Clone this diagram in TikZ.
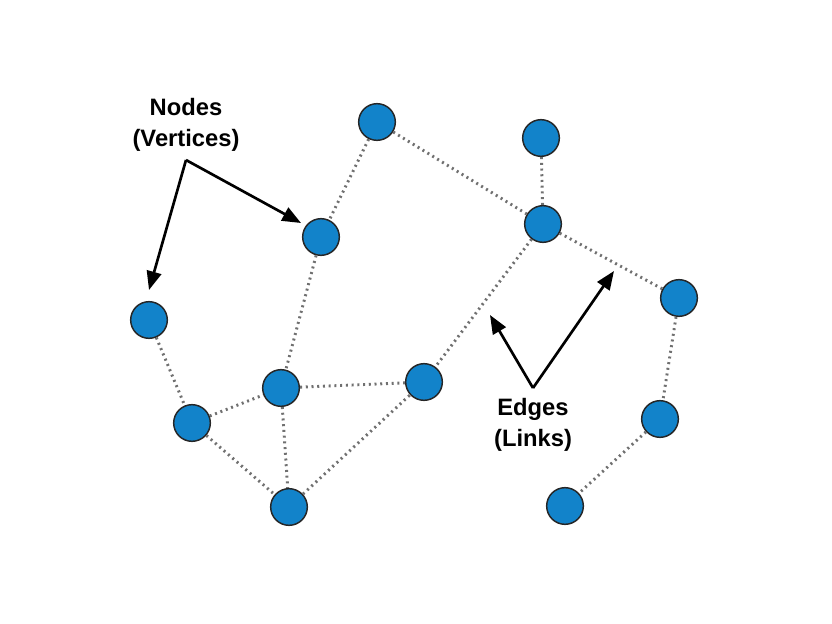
\documentclass[tikz,border=0pt]{standalone}
\usepackage{fontspec}
\setmainfont{Liberation Sans}
\usetikzlibrary{arrows.meta}
\definecolor{nodeblue}{HTML}{1283CA}
\definecolor{edgegray}{HTML}{707070}
\begin{document}
\begin{tikzpicture}[x=0.75pt,y=-0.75pt,
  vertex/.style={circle,fill=nodeblue,draw=black!85,line width=1.1pt,minimum size=27.5pt,inner sep=0pt},
  link/.style={draw=edgegray,line width=2.2pt,dash pattern=on 1.5pt off 2.8pt},
  pointer/.style={draw=black,line width=2pt,-{Triangle[length=14pt,width=11pt]}},
  caption/.style={font=\fontsize{17.8}{23.5}\selectfont\bfseries,align=center,inner sep=0pt}]
\useasboundingbox (0,0) rectangle (832,624);
% vertices
\node[vertex] (A) at (377,122) {};
\node[vertex] (B) at (541,138) {};
\node[vertex] (C) at (321,237) {};
\node[vertex] (D) at (543,224) {};
\node[vertex] (E) at (149,320) {};
\node[vertex] (F) at (679,298) {};
\node[vertex] (G) at (281,388) {};
\node[vertex] (H) at (424,382) {};
\node[vertex] (I) at (192,423) {};
\node[vertex] (J) at (660,419) {};
\node[vertex] (K) at (289,507) {};
\node[vertex] (L) at (565,506) {};
% edges
\path[link] (A) -- (C);
\path[link] (A) -- (D);
\path[link] (B) -- (D);
\path[link] (D) -- (H);
\path[link] (D) -- (F);
\path[link] (F) -- (J);
\path[link] (J) -- (L);
\path[link] (C) -- (G);
\path[link] (E) -- (I);
\path[link] (I) -- (G);
\path[link] (G) -- (H);
\path[link] (I) -- (K);
\path[link] (G) -- (K);
\path[link] (K) -- (H);
% labels
\node[caption] (nodes) at (186,125) {Nodes\\(Vertices)};
\node[caption] (edges) at (533,425) {Edges\\(Links)};
\coordinate (nfork) at (186,160);
\coordinate (efork) at (533,388);
\coordinate (ntipC) at (301,223);
\coordinate (ntipE) at (149,290);
\coordinate (etipL) at (490,315);
\coordinate (etipR) at (614,271);
\draw[pointer] (nfork) -- (ntipC);
\draw[pointer] (nfork) -- (ntipE);
\draw[pointer] (efork) -- (etipL);
\draw[pointer] (efork) -- (etipR);
\end{tikzpicture}
\end{document}
